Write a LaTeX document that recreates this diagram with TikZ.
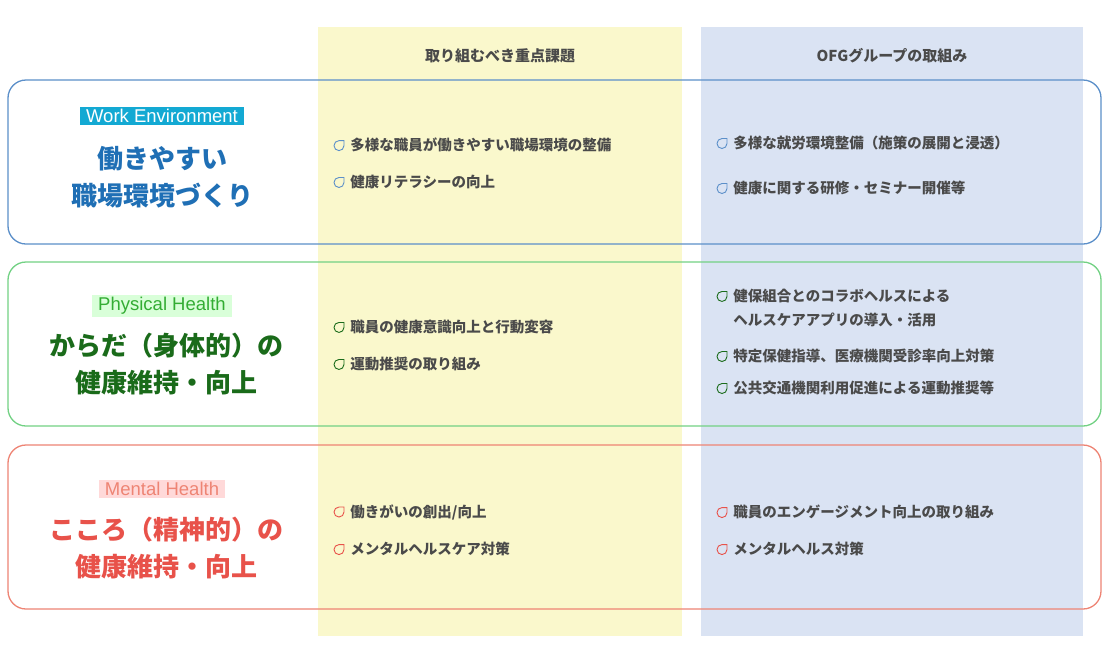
\documentclass[tikz,border=0pt]{standalone}
\usepackage{fontspec}
\setmainfont{Noto Sans CJK JP}
\newfontfamily\lat{Liberation Sans}
\definecolor{colY}{HTML}{FAF8CC}
\definecolor{colB}{HTML}{DAE3F3}
\definecolor{bdB}{HTML}{5B8FC9}
\definecolor{bdG}{HTML}{72D184}
\definecolor{bdR}{HTML}{EE8474}
\definecolor{ttB}{HTML}{1F6FB5}
\definecolor{ttG}{HTML}{1A6B1A}
\definecolor{ttR}{HTML}{E8524A}
\definecolor{txt}{HTML}{4A4A4A}
\newcommand\leaf[1]{\tikz[baseline=-5pt,x=1pt,y=1pt]\draw[#1,line width=0.9pt] (0,5) arc[start angle=90,end angle=360,radius=5] -- (5,5) -- cycle;\hspace{6pt}}
\begin{document}
\begin{tikzpicture}[x=1pt,y=-1pt,
 row/.style={draw,rounded corners=18pt,line width=1.3pt},
 hd/.style={font=\fontsize{15}{18}\selectfont\bfseries,text=txt},
 it/.style={font=\fontsize{14.5}{24}\selectfont\bfseries,text=txt,anchor=west,align=left},
 ttl/.style={font=\fontsize{26}{37}\selectfont\bfseries,align=center},
 tag/.style={font=\lat\fontsize{18.5}{21}\selectfont,inner xsep=6pt,inner ysep=2.5pt}]
\useasboundingbox (0,0) rectangle (1115,646);
\fill[white] (0,0) rectangle (1115,646);
\fill[colY] (318,27) rectangle (682,636);
\fill[colB] (701,27) rectangle (1083,636);
\node[hd] (h1) at (500,56) {取り組むべき重点課題};
\node[hd] (h2) at (892,56) {OFGグループの取組み};
\draw[row,bdB] (8,80) rectangle (1101,244);
\draw[row,bdG] (8,262) rectangle (1101,426);
\draw[row,bdR] (8,445) rectangle (1101,609);
% row 1
\node[tag,fill=ttB!60!cyan,text=white] (t1) at (162,116) {Work Environment};
\node[ttl,text=ttB] (m1) at (162,177) {働きやすい\\職場環境づくり};
\node[it] (a1) at (330,145) {\leaf{bdB}多様な職員が働きやすい職場環境の整備};
\node[it] (a2) at (330,182) {\leaf{bdB}健康リテラシーの向上};
\node[it] (b1) at (713,143) {\leaf{bdB}多様な就労環境整備（施策の展開と浸透）};
\node[it] (b2) at (713,188) {\leaf{bdB}健康に関する研修・セミナー開催等};
% row 2
\node[tag,fill=green!15,text=green!60!black!80] (t2) at (162,306) {Physical Health};
\node[ttl,text=ttG] (m2) at (166,364) {からだ（身体的）の\\健康維持・向上};
\node[it] (c1) at (330,327) {\leaf{ttG}職員の健康意識向上と行動変容};
\node[it] (c2) at (330,364) {\leaf{ttG}運動推奨の取り組み};
\node[it] (d1) at (713,308) {\leaf{ttG}健保組合とのコラボヘルスによる\\\phantom{\leaf{ttG}}ヘルスケアアプリの導入・活用};
\node[it] (d2) at (713,356) {\leaf{ttG}特定保健指導、医療機関受診率向上対策};
\node[it] (d3) at (713,388) {\leaf{ttG}公共交通機関利用促進による運動推奨等};
% row 3
\node[tag,fill=red!15,text=bdR] (t3) at (162,489) {Mental Health};
\node[ttl,text=ttR] (m3) at (166,548) {こころ（精神的）の\\健康維持・向上};
\node[it] (e1) at (330,512) {\leaf{ttR}働きがいの創出/向上};
\node[it] (e2) at (330,549) {\leaf{ttR}メンタルヘルスケア対策};
\node[it] (f1) at (713,512) {\leaf{ttR}職員のエンゲージメント向上の取り組み};
\node[it] (f2) at (713,549) {\leaf{ttR}メンタルヘルス対策};
\end{tikzpicture}
\end{document}
